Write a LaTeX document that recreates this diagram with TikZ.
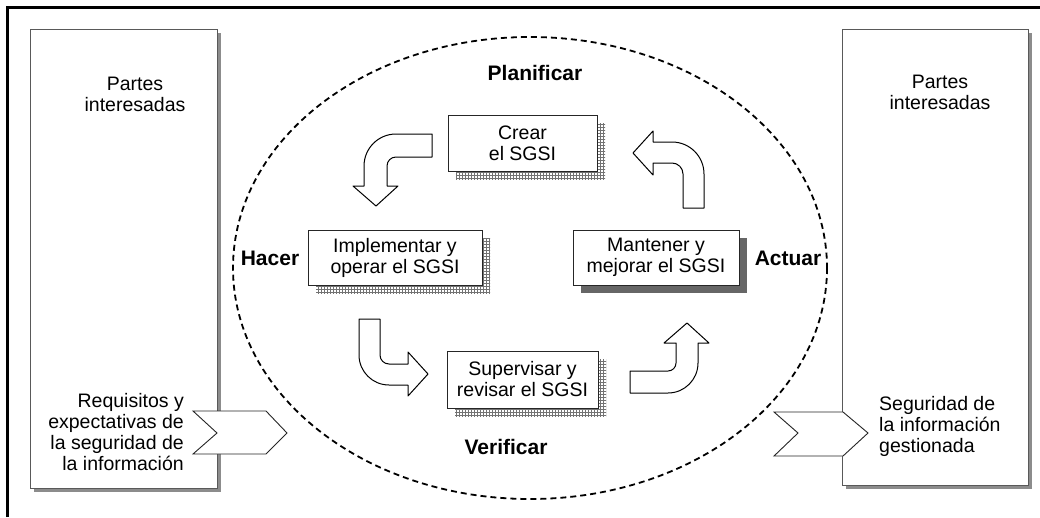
\documentclass[tikz,border=0pt]{standalone}
\usepackage{fontspec}
\setmainfont{Liberation Sans}
\usetikzlibrary{patterns}

\tikzset{
  texto/.style={font=\fontsize{19.5}{21}\selectfont, inner sep=0pt, align=center},
  etapa/.style={font=\fontsize{21}{24}\selectfont\bfseries, inner sep=0pt},
  partesbox/.style={draw=black!65, fill=white, line width=.8pt,
    preaction={fill=black!45, transform canvas={shift={(4pt,-4pt)}}}},
  sgsibox/.style={texto, draw=black!85, fill=white, line width=1pt,
    preaction={pattern=grid, pattern color=black!55, transform canvas={shift={(8pt,-8pt)}}}},
  sgsioscuro/.style={texto, draw=black!85, fill=white, line width=1pt,
    preaction={fill=black!60, transform canvas={shift={(8pt,-8pt)}}}},
  chevron/.style={draw=black!85, fill=white, line width=.9pt},
  bloque/.style={draw=black, fill=white, line width=1pt, line join=round},
  ciclo/.style={draw=black, line width=1.8pt, dash pattern=on 6pt off 4pt}
}

\begin{document}
\begin{tikzpicture}[x=1pt,y=-1pt]
        \newcommand{\cicloxcent}{530}
        \newcommand{\cicloycent}{268}
        \newcommand{\puntaw}{20}
        \useasboundingbox (0,0) rectangle (1040,517);
        % marco
        \draw[line width=3pt] (7,517) -- (7,7) -- (1040,7);
        % partes interesadas
        \draw[partesbox] (30,29) rectangle (217,488);
        \draw[partesbox] (842,29) rectangle (1028,485);
        \node[texto] (partesizq) at (135,94) {Partes\\interesadas};
        \node[texto] (partesder) at (940,92) {Partes\\interesadas};
        \node[texto, anchor=east, align=right] (requisitos) at (184,432) {Requisitos y\\expectativas de\\la seguridad de\\la información};
        \node[texto, anchor=west, align=left] (seguridad) at (879,426) {Seguridad de\\la información\\gestionada};
        \draw[chevron] (193,411) -- (266,411) -- (287,433) -- (266,454) -- (193,454) -- (217,433) -- cycle;
        \draw[chevron] (774,412) -- (843,412) -- (868,433) -- (843,456) -- (774,456) -- (798,433) -- cycle;
        % ciclo PDCA
        \draw[ciclo] (\cicloxcent,\cicloycent) ellipse [x radius=297, y radius=231];
        \node[etapa] (planificar) at (535,73) {Planificar};
        \node[etapa] (hacer) at (270,258) {Hacer};
        \node[etapa] (actuar) at (788,258) {Actuar};
        \node[etapa] (verificar) at (506,447) {Verificar};
        \node[sgsibox, minimum width=149pt, minimum height=56pt] (crear) at (522.5,143) {Crear\\el SGSI};
        \node[sgsibox, minimum width=174pt, minimum height=55pt] (implementar) at (395,257.5) {Implementar y\\operar el SGSI};
        \node[sgsioscuro, minimum width=166pt, minimum height=55pt] (mantener) at (656,257.5) {Mantener y\\mejorar el SGSI};
        \node[sgsibox, minimum width=151pt, minimum height=57pt] (supervisar) at (522.5,379.5) {Supervisar y\\revisar el SGSI};
        % flechas curvas
        \draw[bloque] (432,134) -- (396,134) arc[start angle=-90, end angle=-180, radius=32]
              -- (364,186) -- (353,186) -- (376,186+\puntaw) -- (398,186) -- (387,186) -- (387,166)
              arc[start angle=180, end angle=270, radius=9] -- (432,157) -- cycle;
        \draw[bloque] (683,208) -- (683,174) arc[start angle=0, end angle=-90, radius=11]
              -- (653,163) -- (653,175) -- (653-\puntaw,153) -- (653,131) -- (653,142) -- (672,142)
              arc[start angle=-90, end angle=0, radius=32] -- (704,208) -- cycle;
        \draw[bloque] (359,319) -- (359,355) arc[start angle=180, end angle=90, radius=30]
              -- (408,385) -- (408,396) -- (408+\puntaw,374) -- (408,352) -- (408,364) -- (389,364)
              arc[start angle=90, end angle=180, radius=9] -- (380,319) -- cycle;
        \draw[bloque] (630,371) -- (668,371) arc[start angle=90, end angle=0, radius=8]
              -- (676,343) -- (664,343) -- (687,343-\puntaw) -- (709,343) -- (698,343) -- (698,363)
              arc[start angle=0, end angle=90, radius=30] -- (630,393) -- cycle;
\end{tikzpicture}
\end{document}
